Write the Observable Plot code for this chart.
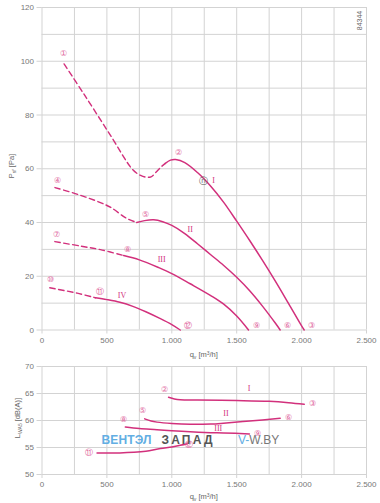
<!DOCTYPE html>
<html><head><meta charset="utf-8">
<script src="https://cdn.jsdelivr.net/npm/d3@7"></script>
<script src="https://cdn.jsdelivr.net/npm/@observablehq/plot@0.6"></script>
<style>
body{margin:0;background:#fff;}
#chart svg{display:block;}
</style></head><body><div id="chart"></div>
<script>
// ---------- data ----------
const xTicks = [0, 500, 1000, 1500, 2000, 2500];
const xGrid = [0, 250, 500, 750, 1000, 1250, 1500, 1750, 2000, 2250, 2500];
const yTicksTop = [0, 20, 40, 60, 80, 100, 120];
const yGridTop = [0, 10, 20, 30, 40, 50, 60, 70, 80, 90, 100, 110, 120];
const yTicksBot = [50, 55, 60, 65, 70];

// pressure curves (q, Psf)
const pI_dash = [[170,99],[320,88],[520,73],[700,59.6],[760,57.5],[800,56.9],[840,57],[880,58.8],[920,60.8],[950,62]];
const pI_solid = [[950,62],[990,63.2],[1030,63.4],[1100,62.3],[1200,58.5],[1300,53.5],[1400,47.5],[1500,40.5],[1600,33.3],[1700,25.8],[1800,18],[1900,9.8],[2000,1.5],[2020,0]];
const pII_dash = [[100,53],[280,50.4],[450,47.4],[530,45.6],[650,41.6],[730,40]];
const pII_solid = [[730,40],[790,40.7],[860,41],[930,40.3],[1000,38.9],[1100,35.9],[1200,32],[1300,28],[1400,24],[1500,19.6],[1600,14.6],[1700,8.8],[1800,2.4],[1835,0]];
const pIII_dash = [[99,32.9],[300,31.2],[450,29.9],[629,27.7]];
const pIII_solid = [[629,27.7],[750,26.1],[900,23.2],[1000,21],[1142,17.2],[1300,12.8],[1400,9.6],[1500,5.2],[1591,0]];
const pIV_dash = [[60,15.7],[271,13.7],[412,12]];
const pIV_solid = [[412,12],[500,11.3],[600,10.3],[700,8.8],[800,6.8],[900,4.5],[1000,2],[1065,0]];

// sound power curves (q, LWA5)
const sI = [[975,64.3],[1020,64],[1065,63.85],[1200,63.8],[1500,63.7],[1750,63.55],[1900,63.3],[2020,63.0]];
const sII = [[791,60.3],[840,59.9],[886,59.7],[1000,59.45],[1142,59.3],[1300,59.35],[1398,59.5],[1600,59.9],[1835,60.4]];
const sIII = [[642,58.8],[750,58.5],[886,58.3],[1000,58.1],[1142,57.9],[1300,57.75],[1398,57.7],[1598,57.5]];
const sIV = [[424,54],[600,54],[706,54.1],[800,54.3],[912,54.8],[1000,55.1],[1065,55.4],[1120,55.7]];

// point markers and curve labels
const topMarkers = [
  {x:168,y:102.8,t:"①"},{x:1048,y:65.9,t:"②"},{x:2078,y:1.7,t:"③"},
  {x:122,y:55.5,t:"④"},{x:801,y:43.1,t:"⑤"},{x:1894,y:1.7,t:"⑥"},
  {x:109,y:35.6,t:"⑦"},{x:658,y:29.8,t:"⑧"},{x:1652,y:1.7,t:"⑨"},
  {x:68,y:18.8,t:"⑩"},{x:445,y:14.4,t:"⑪"},{x:1125,y:1.7,t:"⑫"}
];
const topNominal = [{x:1245,y:55.4,t:"ⓝ"}];
const topLabels = [{x:1322,y:55.6,t:"I"},{x:1142,y:37.3,t:"II"},{x:922,y:26.2,t:"III"},{x:617,y:12.8,t:"IV"}];
const botMarkers = [
  {x:940,y:65.7,t:"②"},{x:2083,y:63.1,t:"③"},{x:778,y:61.8,t:"⑤"},{x:1899,y:60.5,t:"⑥"},
  {x:629,y:60.2,t:"⑧"},{x:1658,y:57.6,t:"⑨"},{x:363,y:54.1,t:"⑪"},{x:1135,y:55.5,t:"⑫"}
];
const botLabels = [{x:1596,y:66,t:"I"},{x:1417,y:61.4,t:"II"},{x:1358,y:58.5,t:"III"}];

// ---------- drawing ----------
const C = "#d2307c";
const MK = "#e0669e";
const GRID = "#d3d3d3";
const TXT = "#777";
const FONT = "'Liberation Sans', Arial, sans-serif";
const fmt = d => d3.format(",")(d).replace(/,/g, ".");
const pts = a => a.map(([x, y]) => ({x, y}));
const dashed = a => Plot.line(pts(a), {x:"x", y:"y", stroke:C, strokeWidth:1.4, strokeDasharray:"5.5,3.5", curve:"catmull-rom"});
const solid = a => Plot.line(pts(a), {x:"x", y:"y", stroke:C, strokeWidth:1.5, curve:"catmull-rom"});

const topPlot = Plot.plot({
  width: 380, height: 362,
  marginLeft: 41.5, marginRight: 14, marginTop: 7, marginBottom: 32.5,
  style: {fontFamily: FONT, background: "#fff", overflow: "visible"},
  x: {domain: [0, 2500]},
  y: {domain: [0, 120]},
  marks: [
    Plot.ruleX(xGrid, {stroke: GRID}),
    Plot.ruleY(yGridTop, {stroke: GRID}),
    Plot.axisX(xTicks, {tickFormat: fmt, tickSize: 4, tickPadding: 3, fontSize: 8, stroke: GRID, fill: TXT, label: null}),
    Plot.axisY(yTicksTop, {tickSize: 5, tickPadding: 3, fontSize: 8, stroke: GRID, fill: TXT, label: null}),
    dashed(pI_dash), solid(pI_solid),
    dashed(pII_dash), solid(pII_solid),
    dashed(pIII_dash), solid(pIII_solid),
    dashed(pIV_dash), solid(pIV_solid),
    Plot.text(topMarkers, {x:"x", y:"y", text:"t", fill:MK, fontSize:8}),
    Plot.text(topNominal, {x:"x", y:"y", text:"t", fill:"#666", fontSize:8.5}),
    Plot.text(topLabels, {x:"x", y:"y", text:"t", fill:C, fontSize:8, fontFamily:"'Liberation Serif', serif"})
  ]
});

const botPlot = Plot.plot({
  width: 380, height: 141,
  marginLeft: 41.5, marginRight: 14, marginTop: 4, marginBottom: 29,
  style: {fontFamily: FONT, background: "#fff", overflow: "visible"},
  x: {domain: [0, 2500]},
  y: {domain: [50, 70]},
  marks: [
    Plot.ruleX(xGrid, {stroke: GRID}),
    Plot.ruleY(yTicksBot, {stroke: GRID}),
    Plot.axisX(xTicks, {tickFormat: fmt, tickSize: 4, tickPadding: 3, fontSize: 8, stroke: GRID, fill: TXT, label: null}),
    Plot.axisY(yTicksBot, {tickSize: 5, tickPadding: 3, fontSize: 8, stroke: GRID, fill: TXT, label: null}),
    solid(sI), solid(sII), solid(sIII), solid(sIV),
    Plot.text(botMarkers, {x:"x", y:"y", text:"t", fill:MK, fontSize:8}),
    Plot.text(botLabels, {x:"x", y:"y", text:"t", fill:C, fontSize:8, fontFamily:"'Liberation Serif', serif"})
  ]
});

function qLabel(svg, y) {
  const sx = svg.scale("x");
  const t = d3.select(svg).append("text")
    .attr("x", sx.apply(1250)).attr("y", y).attr("text-anchor", "middle")
    .attr("font-size", 7.5).attr("fill", "#666").attr("font-family", FONT);
  t.append("tspan").text("q");
  t.append("tspan").attr("font-size", 5).attr("dy", 1.5).text("v");
  t.append("tspan").attr("dy", -1.5).text(" [m");
  t.append("tspan").attr("font-size", 5).attr("dy", -2.5).text("3");
  t.append("tspan").attr("dy", 2.5).text("/h]");
}
function yLabel(svg, x, y, main, sub, rest) {
  const t = d3.select(svg).append("text")
    .attr("transform", `translate(${x},${y}) rotate(-90)`).attr("text-anchor", "middle")
    .attr("font-size", 7.5).attr("fill", "#666").attr("font-family", FONT);
  t.append("tspan").text(main);
  t.append("tspan").attr("font-size", 5).attr("dy", 1.5).text(sub);
  t.append("tspan").attr("dy", -1.5).text(rest);
}
qLabel(topPlot, 357);
qLabel(botPlot, 137);
yLabel(topPlot, 14, 166, "P", "sf", " [Pa]");
yLabel(botPlot, 20, 56, "L", "WA5", " [dB(A)]");

// code number
d3.select(topPlot).append("text")
  .attr("transform", "translate(362,20.5) rotate(-90)").attr("text-anchor", "middle")
  .attr("font-size", 7).attr("fill", "#666").attr("font-family", FONT).text("84344");

// watermark
const wm = d3.select(botPlot).append("g").attr("font-family", FONT).attr("font-size", 12).attr("text-anchor", "start");
wm.append("text").attr("x", 101.5).attr("y", 81.5).attr("fill", "#62aee3").attr("font-weight", "bold")
  .attr("textLength", 50).attr("lengthAdjust", "spacing").text("ВЕНТЭЛ");
wm.append("text").attr("x", 161.5).attr("y", 81.5).attr("fill", "#555").attr("font-weight", "bold")
  .attr("textLength", 51).attr("lengthAdjust", "spacing").text("ЗАПАД");
const vw = wm.append("text").attr("x", 238).attr("y", 81.5);
vw.append("tspan").attr("fill", "#62aee3").text("V-");
vw.append("tspan").attr("fill", "#777").text("W.BY");

const root = document.getElementById("chart");
root.appendChild(topPlot);
root.appendChild(botPlot);
</script>
</body></html>
